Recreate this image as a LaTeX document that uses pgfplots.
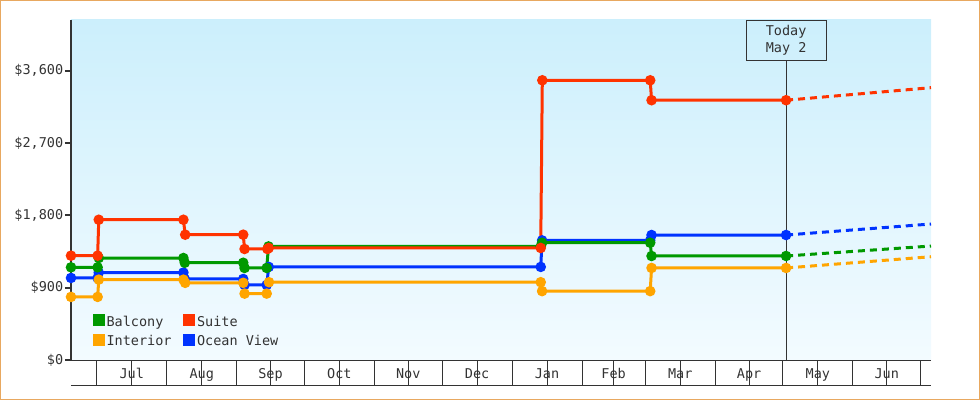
\documentclass[border=0pt]{standalone}
\usepackage{fontspec}
\setmainfont{DejaVu Sans Mono}
\usepackage{pgfplots}
\pgfplotsset{compat=1.18}

\definecolor{cBal}{HTML}{009900}
\definecolor{cSui}{HTML}{FF3300}
\definecolor{cInt}{HTML}{FFA500}
\definecolor{cOcn}{HTML}{0033FF}
\definecolor{ink}{HTML}{333333}
\definecolor{frame}{HTML}{E8A860}
\definecolor{bgtop}{HTML}{CCEFFC}
\definecolor{bgbot}{HTML}{F3FBFF}

\newcommand\lbl{\fontsize{13.5pt}{17.5pt}\selectfont}

\pgfplotsset{
  step/.style={line width=3pt, mark=*, mark size=3.7pt, forget plot},
  fcast/.style={line width=3pt, dash pattern=on 7pt off 5pt, forget plot},
}

\begin{document}
\begin{tikzpicture}
\path[use as bounding box] (-71pt,-40pt) rectangle (909pt,360pt);
\begin{axis}[
  at={(0pt,0pt)}, anchor=south west,
  scale only axis, width=860pt, height=340pt,
  xmin=-11.4, xmax=369.6, ymin=0, ymax=4230,
  clip=false,
  axis x line*=bottom, axis y line*=left,
  x axis line style={ink, line width=1pt},
  y axis line style={ink, line width=2pt},
  axis background/.style={top color=bgtop, bottom color=bgbot},
  tick align=outside,
  xtick={0,31,62,92,123,153,184,215,243,274,304,335,365},
  xticklabels={},
  x tick style={ink, line width=1pt, /pgfplots/major tick length=25pt},
  extra x ticks={15.5,46.5,77,107.5,138,168.5,199.5,229,258.5,289,319.5,350},
  extra x tick labels={Jul,Aug,Sep,Oct,Nov,Dec,Jan,Feb,Mar,Apr,May,Jun},
  extra x tick style={/pgfplots/major tick length=0pt, xticklabel style={yshift=-5pt}},
  ytick={0,900,1800,2700,3600},
  yticklabels={{\$0},{\$900},{\$1,800},{\$2,700},{\$3,600}},
  y tick style={ink, line width=2pt, /pgfplots/major tick length=6pt},
  tick label style={font=\lbl, text=ink},
  legend columns=2,
  legend cell align=left,
  legend image code/.code={\fill[#1] (0pt,-3.5pt) rectangle (11pt,7.5pt); \path (12.5pt,0pt);},
  legend style={at={(rel axis cs:0.025,0.136)}, anchor=north west,
    draw=none, fill=none, inner sep=0pt, font=\lbl, text=ink,
    nodes={inner sep=1pt}, row sep=5pt,
    /tikz/every even column/.append style={column sep=10.5pt}},
]
% band bottom line
\draw[ink, line width=1pt] ([yshift=-25pt]rel axis cs:0,0) -- ([yshift=-25pt]rel axis cs:1,0);

% today marker
\node[draw=ink, line width=1pt, minimum width=80pt, minimum height=40pt,
  anchor=north, align=center, inner sep=0pt, font=\lbl, text=ink]
  (today) at (axis cs:305.4,4230) {Today\\May 2};
\draw[ink, line width=1pt] (today.south) -- (axis cs:305.4,0);

\addlegendimage{cBal}\addlegendentry{Balcony}
\addlegendimage{cSui}\addlegendentry{Suite}
\addlegendimage{cInt}\addlegendentry{Interior}
\addlegendimage{cOcn}\addlegendentry{Ocean View}

% Ocean View
\addplot[step, color=cOcn] coordinates {
(-11.4,1021) (0.4,1021) (0.9,1088) (38.4,1088) (39.0,1008) (64.9,1008)
(65.5,934) (75.3,934) (76.2,1158) (196.7,1158) (197.3,1488) (245.2,1488)
(245.8,1555) (305.4,1555)
};
\addplot[fcast, color=cOcn] coordinates {(305.4,1555) (369.6,1692)};

% Interior
\addplot[step, color=cInt] coordinates {
(-11.4,785) (0.4,785) (0.9,1000) (38.4,1000) (39.2,960) (64.9,960)
(65.5,826) (75.3,826) (76.3,968) (196.7,968) (197.3,857) (245.2,857)
(245.8,1145) (305.4,1145)
};
\addplot[fcast, color=cInt] coordinates {(305.4,1145) (369.6,1285)};

% Balcony
\addplot[step, color=cBal] coordinates {
(-11.4,1153) (0.4,1153) (0.9,1269) (38.4,1269) (39.0,1210) (64.9,1210)
(65.5,1145) (75.3,1145) (76.1,1413) (196.7,1413) (197.3,1459) (245.2,1459)
(245.8,1294) (305.4,1294)
};
\addplot[fcast, color=cBal] coordinates {(305.4,1294) (369.6,1418)};

% Suite
\addplot[step, color=cSui] coordinates {
(-11.4,1298) (0.4,1298) (0.9,1745) (38.4,1745) (39.2,1559) (64.9,1559)
(65.5,1381) (75.6,1381) (76.2,1394) (196.7,1394) (197.4,3480) (245.2,3480)
(245.8,3232) (305.4,3232)
};
\addplot[fcast, color=cSui] coordinates {(305.4,3232) (369.6,3388)};
\end{axis}
\draw[frame, line width=1.5pt] (-70.25pt,-39.25pt) rectangle (908.25pt,359.25pt);
\end{tikzpicture}
\end{document}
